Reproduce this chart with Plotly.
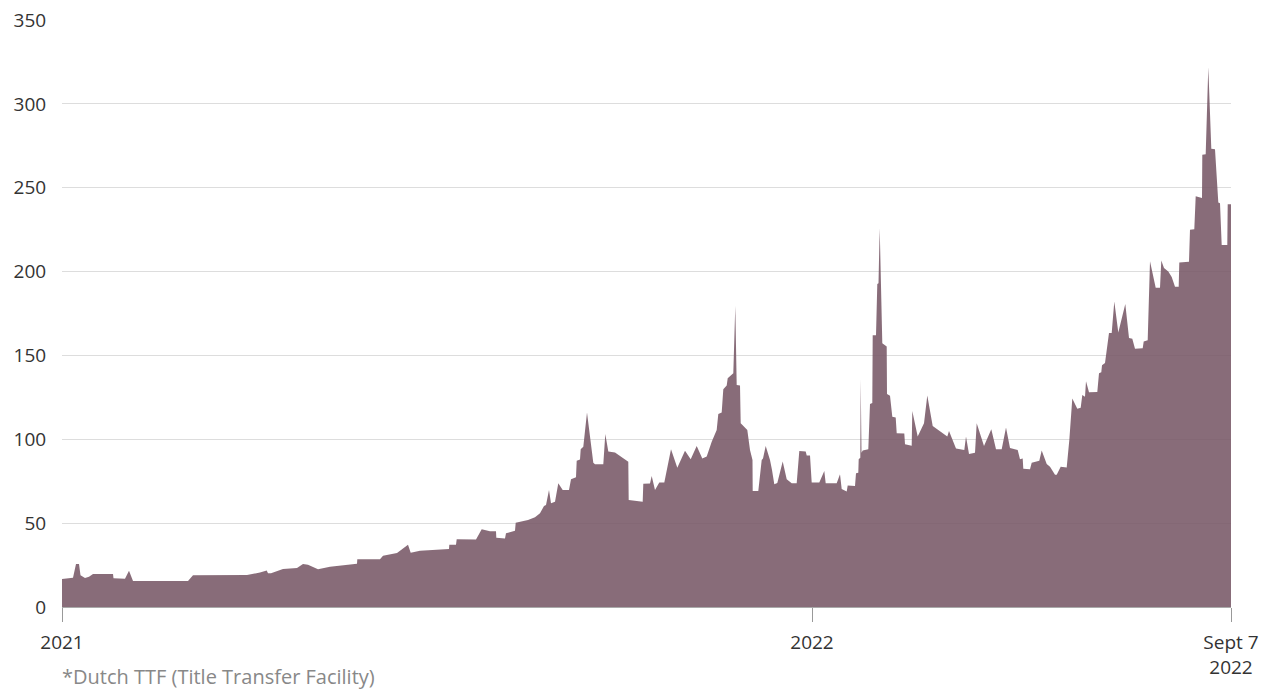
import plotly.graph_objects as go

# Observation position along the time axis (equally spaced observation scale,
# 0 = first observation of 2021, 750 = first of 2022, 1169 = Sept 7 2022)
obs = [0, 11, 14, 17, 18.5, 23, 27, 31, 51, 51.5, 63, 67, 71, 126, 131, 185, 198,
       204.7, 206, 209, 221, 235, 241, 246, 256, 268, 295, 295.3, 318, 321, 335, 346,
       348.7, 358, 387, 387.3, 394, 394.7, 414, 419.7, 428, 434, 434.3, 443, 444, 453,
       453.7, 466, 473, 478, 482, 484, 487, 489, 493, 496.3, 500.7, 507, 509, 514,
       514.7, 518, 518.7, 521.3, 525, 529.7, 531.3, 533, 541.3, 543.3, 546.3, 553,
       566.3, 566.7, 580.7, 581.3, 588, 589.7, 593, 597.3, 602.3, 609, 615.3, 623,
       628.7, 634.7, 640.3, 644.7, 649.7, 654.7, 656.3, 659.7, 661.3, 664.7, 665.7,
       671.3, 673.3, 674.7, 678, 678.7, 685.3, 688, 690.5, 690.7, 696.3, 699.7, 701,
       703.7, 708, 710, 712.3, 715.3, 720.7, 724.7, 729.7, 734.7, 737.3, 743.7, 744.7,
       748, 749.7, 757.3, 762.3, 763.7, 774.7, 778, 779.7, 784.7, 785.7, 793, 794,
       796.3, 796.7, 798.3, 798.7, 799.5, 800.7, 806.3, 808, 810.3, 810.7, 814, 815.3,
       816.5, 817.7, 820.3, 824.7, 825, 828, 830.3, 833.7, 834.7, 842.3, 843, 849.7,
       850.3, 855.7, 862, 865.3, 870.7, 885.3, 887, 894, 902.3, 904, 907, 913, 914.7,
       922, 929.3, 934, 939.7, 944, 948, 955.7, 958, 960.7, 961.3, 968, 969.7, 977.3,
       979.7, 984.7, 988, 993, 994.7, 998.7, 1004.7, 1007.3, 1010.3, 1015.3, 1018.7,
       1020.3, 1023, 1024, 1027, 1035.3, 1037, 1039.3, 1040, 1043, 1047, 1049.7,
       1052.3, 1056.3, 1063.3, 1067, 1070.3, 1073, 1080.7, 1081.7, 1085.7, 1088,
       1093.7, 1098, 1099.3, 1102, 1106.3, 1109.7, 1113, 1116.7, 1117.3, 1127, 1128,
       1132.3, 1133.7, 1140, 1140.3, 1143.7, 1146.3, 1149.3, 1153, 1156.3, 1158,
       1159.7, 1165.3, 1165.7, 1169]

# Dutch TTF gas price (EUR/MWh)
price = [16.7, 17.5, 25.6, 25.6, 19, 17.3, 18, 19.7, 19.7, 17.2, 16.9, 21.6, 15.5, 15.5,
         18.9, 19.1, 20.5,
         21.7, 20.1, 20.1, 22.7, 23.2, 25.6, 25.2, 22.5, 24, 25.8, 28.4, 28.4, 30.6, 32.2,
         37.1, 32.4, 33.6, 34.6, 37.1, 37.1, 40.4, 40.2, 46.3, 45.1, 45.1, 41.3, 40.8,
         43.9, 45.5, 50.3, 51.9, 53.5, 55.9, 60.2, 60.8, 69.8, 61.8, 62.8, 73.8, 69.8,
         69.8, 76.1, 77.3, 87.2, 88, 94, 95.6, 115.9, 91.2, 86, 85.1, 85.1, 103.2, 92.7,
         92.1, 86.6, 63.8, 62.8, 73.5, 73.7, 78.1, 69.8, 74.3, 74.3, 94, 83.1, 93.2,
         88.1, 96, 88.5, 89.7, 98.6, 105.5, 115.1, 116, 129.8, 132, 136.4, 139.4, 179.5,
         132.4, 132, 109.5, 105.5, 93.6, 87.7, 69.2, 69.2, 87.7, 88.5, 96, 87.7, 81.7,
         73.2, 74, 86.7, 76.1, 73.8, 73.8, 93, 92.7, 90.4, 90.4, 74.3, 74.3, 81.1, 73.8,
         73.8, 79.1, 70.4, 68.8, 72.4, 72.2, 79.7, 80.1, 88.1, 89, 135.8, 92, 93.3, 94,
         121, 121.7, 162, 162, 192.6, 193, 225.8, 157.2, 155.3, 127, 126, 113.5, 113,
         103.6, 103.4, 97, 96.2, 116.9, 101.6, 109.5, 126.1, 107.9, 101.6, 105, 94.5,
         93.6, 101.6, 91.2, 92, 109.5, 96, 106, 94, 94, 107.1, 94.8, 93.6, 88.1, 88.5,
         82.5, 82.2, 86, 87.2, 93.3, 85.3, 83.6, 78.8, 78.8, 83.6, 83.2, 99.4, 124.3,
         118.2, 118.8, 126.4, 125.3, 134.6, 128, 128.2, 139.4, 140, 144.2, 145.5, 163.3,
         163.3, 182.1, 163.7, 180.6, 160.4, 160, 154, 154.3, 158.3, 159, 206.2, 190.3,
         190.3, 206.6, 202.2, 200, 196.8, 191, 191, 205.4, 205.8, 225, 225.3, 244.9,
         243.8, 269.7, 270, 321.9, 273.2, 273, 241.2, 240.8, 215.9, 215.9, 240.1, 240.1]

x_tick_pos = [0, 750, 1169]
x_tick_text = ["2021", "2022", "Sept 7<br>2022"]
y_ticks = [0, 50, 100, 150, 200, 250, 300, 350]

FONT = "Open Sans, Noto Sans, sans-serif"
FILL = "rgba(119,88,103,0.88)"

fig = go.Figure()
fig.add_trace(go.Scatter(
    x=obs, y=price, mode="lines", fill="tozeroy",
    line=dict(width=0, color=FILL),
    fillcolor=FILL,
    hoverinfo="skip", showlegend=False,
))

fig.update_layout(
    width=1261, height=689,
    margin=dict(l=62, r=30, t=20, b=82),
    paper_bgcolor="white", plot_bgcolor="white",
    font=dict(family=FONT, size=19, color="#333333"),
    xaxis=dict(
        range=[0, 1169], tickmode="array", tickvals=x_tick_pos, ticktext=x_tick_text,
        showgrid=False, zeroline=False, showline=True, linecolor="#aaaaaa", linewidth=1,
        ticks="outside", ticklen=14, tickcolor="#999999", tickwidth=1,
        ticklabelstandoff=4,
        tickfont=dict(family=FONT, size=19, color="#333333"), automargin=False,
    ),
    yaxis=dict(
        range=[0, 350], tickmode="array", tickvals=y_ticks,
        showgrid=True, gridcolor="#dddddd", gridwidth=1, zeroline=False,
        showline=False, ticks="outside", ticklen=11, tickcolor="rgba(0,0,0,0)",
        tickfont=dict(family=FONT, size=19, color="#333333"), automargin=False,
    ),
    annotations=[dict(
        text="*Dutch TTF (Title Transfer Facility)", xref="paper", yref="paper",
        x=0, y=-0.119, xanchor="left", yanchor="middle", showarrow=False, xshift=-2,
        font=dict(family=FONT, size=20, color="#888888"),
    )],
)

fig.write_html("out.html", config={"displayModeBar": False},
               post_script="document.body.style.margin='0';document.body.style.overflow='hidden';")
